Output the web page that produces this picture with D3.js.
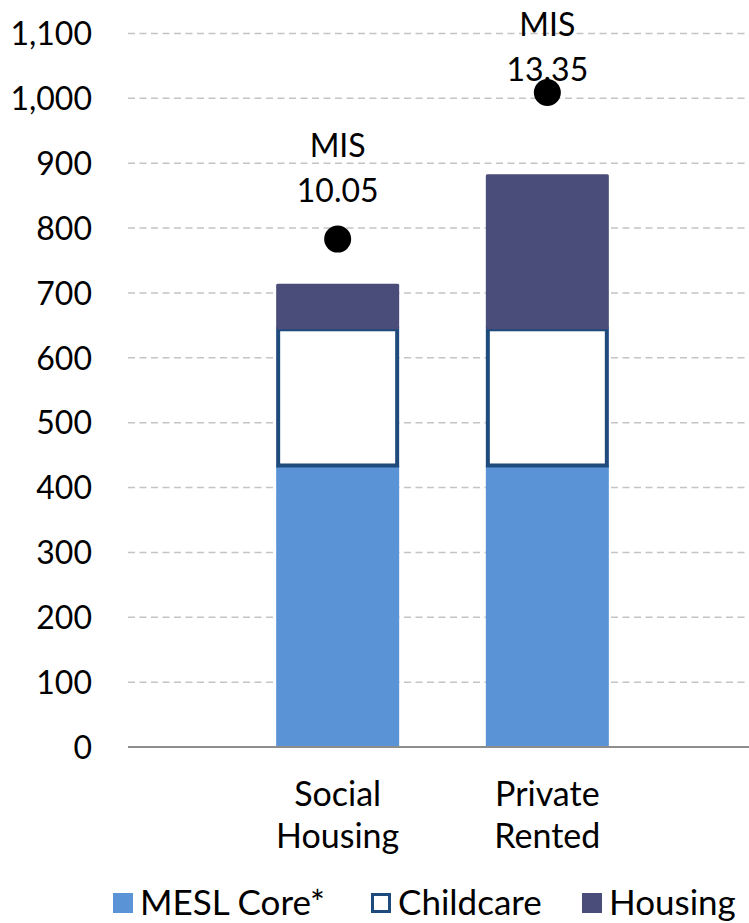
<!DOCTYPE html>
<html>
<head>
<meta charset="utf-8">
<script src="https://cdn.jsdelivr.net/npm/d3@7/dist/d3.min.js"></script>
<style>
  html, body { margin: 0; padding: 0; background: #fff; }
  svg { display: block; }
  text { font-family: Lato, "Open Sans", sans-serif; fill: #000; }
</style>
</head>
<body>
<svg id="chart" width="749" height="923"></svg>
<script>
// Weekly budget components by tenure
const categories = ["Social Housing", "Private Rented"];
const categoryLines = [["Social", "Housing"], ["Private", "Rented"]];
const seriesNames = ["MESL Core*", "Childcare", "Housing"];
const meslCore = [434, 434];
const childcare = [210, 210];
const housing = [70, 239];
// Minimum Income Standard totals and their hourly-wage labels
const misValues = [783, 1009];
const misLabels = ["10.05", "13.35"];
const yTicks = [0, 100, 200, 300, 400, 500, 600, 700, 800, 900, 1000, 1100];

const colors = { core: "#5a94d7", childStroke: "#1f4a7c", housing: "#4a4c79" };

const svg = d3.select("#chart");
const plotLeft = 128, plotRight = 757, plotTop = 33.5, plotBottom = 747;

const x = d3.scalePoint().domain(categories).range([plotLeft, plotRight]).padding(1);
const y = d3.scaleLinear().domain([0, 1100]).range([plotBottom, plotTop]);
const barW = 123;

// Gridlines
svg.append("g").selectAll("line").data(yTicks.filter(t => t > 0)).join("line")
  .attr("x1", plotLeft).attr("x2", 749)
  .attr("y1", d => y(d)).attr("y2", d => y(d))
  .attr("stroke", "#c4c4c4").attr("stroke-width", 1.5)
  .attr("stroke-dasharray", "7,4.5");

// Y axis labels
const yAxis = d3.axisLeft(y).tickValues(yTicks).tickFormat(d3.format(",")).tickSize(0).tickPadding(0);
const gy = svg.append("g").attr("transform", "translate(92,0)").call(yAxis);
gy.select(".domain").remove();
gy.selectAll("text").attr("font-size", 32).attr("font-family", "Lato, sans-serif").attr("fill", "#000").attr("dy", "0.35em");

const rows = categories.map((c, i) => ({
  cat: c, core: meslCore[i], child: childcare[i], housing: housing[i]
}));

const bars = svg.append("g");
// Core segment
bars.selectAll("rect.core").data(rows).join("rect")
  .attr("class", "core")
  .attr("x", d => x(d.cat) - barW / 2).attr("width", barW)
  .attr("y", d => y(d.core)).attr("height", d => y(0) - y(d.core))
  .attr("fill", colors.core);
// Childcare segment (outlined)
bars.selectAll("rect.child").data(rows).join("rect")
  .attr("class", "child")
  .attr("x", d => x(d.cat) - barW / 2 + 2).attr("width", barW - 4)
  .attr("y", d => y(d.core + d.child)).attr("height", d => y(d.core) - y(d.core + d.child))
  .attr("fill", "#fff").attr("stroke", colors.childStroke).attr("stroke-width", 4);
// Housing segment
bars.selectAll("rect.housing").data(rows).join("rect")
  .attr("class", "housing")
  .attr("x", d => x(d.cat) - barW / 2).attr("width", barW)
  .attr("y", d => y(d.core + d.child + d.housing)).attr("height", d => y(d.core + d.child) - y(d.core + d.child + d.housing))
  .attr("rx", 1.5)
  .attr("fill", colors.housing);

// Baseline
svg.append("line").attr("x1", plotLeft).attr("x2", 749).attr("y1", y(0)).attr("y2", y(0))
  .attr("stroke", "#8d8d8d").attr("stroke-width", 2);

// MIS markers and labels
const mis = categories.map((c, i) => ({ cat: c, v: misValues[i], label: misLabels[i] }));
svg.append("g").selectAll("circle").data(mis).join("circle")
  .attr("cx", d => x(d.cat)).attr("cy", d => y(d.v)).attr("r", 13.5).attr("fill", "#000");
const lab = svg.append("g").selectAll("text").data(mis).join("text")
  .attr("text-anchor", "middle").attr("font-size", 32)
  .attr("x", d => x(d.cat));
lab.each(function(d) {
  const base = Math.max(y(d.v) - 37, 81);
  const t = d3.select(this);
  t.append("tspan").attr("x", x(d.cat)).attr("y", base - 45).text("MIS");
  t.append("tspan").attr("x", x(d.cat)).attr("y", base).text(d.label);
});

// Category labels
svg.append("g").selectAll("text").data(categories).join("text")
  .attr("text-anchor", "middle").attr("font-size", 34)
  .each(function(c, i) {
    const t = d3.select(this);
    t.append("tspan").attr("x", x(c)).attr("y", 806).text(categoryLines[i][0]);
    t.append("tspan").attr("x", x(c)).attr("y", 848).text(categoryLines[i][1]);
  });

// Legend
const legendItems = [
  { name: seriesNames[0], x: 113, fill: colors.core, stroke: "none" },
  { name: seriesNames[1], x: 371, fill: "#fff", stroke: colors.childStroke },
  { name: seriesNames[2], x: 582, fill: colors.housing, stroke: "none" }
];
const lg = svg.append("g").selectAll("g").data(legendItems).join("g")
  .attr("transform", d => `translate(${d.x},0)`);
lg.append("rect")
  .attr("x", d => d.stroke === "none" ? 0 : 1.5).attr("y", d => d.stroke === "none" ? 893 : 894.5)
  .attr("width", d => d.stroke === "none" ? 20 : 17).attr("height", d => d.stroke === "none" ? 20 : 17)
  .attr("fill", d => d.fill).attr("stroke", d => d.stroke).attr("stroke-width", 3);
lg.append("text").attr("x", 27).attr("y", 915).attr("font-size", 35).text(d => d.name);
</script>
</body>
</html>
